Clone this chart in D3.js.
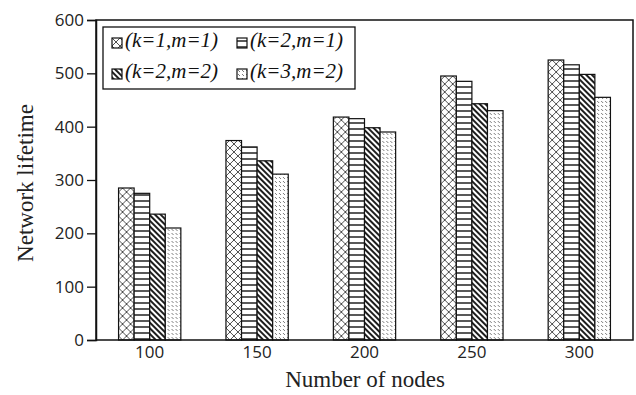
<!DOCTYPE html>
<html>
<head>
<meta charset="utf-8">
<script src="https://cdn.jsdelivr.net/npm/d3@7"></script>
<style>
  html, body { margin: 0; padding: 0; background: #fff; }
</style>
</head>
<body>
<div id="chart"></div>
<script>
const width = 636;
const height = 395;

const nodeCounts = ['100', '150', '200', '250', '300'];
const seriesNames = ['(k=1,m=1)', '(k=2,m=1)', '(k=2,m=2)', '(k=3,m=2)'];
const k1m1 = [285, 374, 418, 495, 525];
const k2m1 = [275, 362, 415, 485, 516];
const k2m2 = [236, 336, 398, 443, 498];
const k3m2 = [210, 311, 390, 430, 455];
const yTicks = [0, 100, 200, 300, 400, 500, 600];

const allSeries = [k1m1, k2m1, k2m2, k3m2];
const patternIds = ['pat-cross', 'pat-hline', 'pat-diag', 'pat-dash'];

const margin = { top: 20, right: 3, bottom: 55, left: 96 };

const svg = d3
    .select('#chart')
    .append('svg')
    .attr('width', width)
    .attr('height', height)
    .style('background-color', 'white');

// hatch patterns
const defs = svg.append('defs');

const cross = defs.append('pattern')
    .attr('id', 'pat-cross')
    .attr('patternUnits', 'userSpaceOnUse')
    .attr('width', 8)
    .attr('height', 8);
cross.append('rect').attr('width', 8).attr('height', 8).attr('fill', 'white');
cross.append('path')
    .attr('d', 'M0,0 L8,8 M8,0 L0,8')
    .attr('stroke', '#222')
    .attr('stroke-width', 0.8);

const hline = defs.append('pattern')
    .attr('id', 'pat-hline')
    .attr('patternUnits', 'userSpaceOnUse')
    .attr('width', 6)
    .attr('height', 6);
hline.append('rect').attr('width', 6).attr('height', 6).attr('fill', 'white');
hline.append('line')
    .attr('x1', 0).attr('y1', 3).attr('x2', 6).attr('y2', 3)
    .attr('stroke', '#111')
    .attr('stroke-width', 1.4);

const diag = defs.append('pattern')
    .attr('id', 'pat-diag')
    .attr('patternUnits', 'userSpaceOnUse')
    .attr('width', 4)
    .attr('height', 4)
    .attr('patternTransform', 'rotate(45)');
diag.append('rect').attr('width', 4).attr('height', 4).attr('fill', 'white');
diag.append('line')
    .attr('x1', 0).attr('y1', 2).attr('x2', 4).attr('y2', 2)
    .attr('stroke', '#111')
    .attr('stroke-width', 1.9);

const dash = defs.append('pattern')
    .attr('id', 'pat-dash')
    .attr('patternUnits', 'userSpaceOnUse')
    .attr('width', 8)
    .attr('height', 8);
dash.append('rect').attr('width', 8).attr('height', 8).attr('fill', 'white');
dash.append('path')
    .attr('d', 'M1,1 L3,3 M5,5 L7,7 M5,1 L7,3 M1,5 L3,7')
    .attr('stroke', '#444')
    .attr('stroke-width', 0.7);

const x = d3.scaleBand()
    .domain(nodeCounts)
    .range([margin.left, width - margin.right])
    .paddingInner(0.42)
    .paddingOuter(0.21);

const xInner = d3.scaleBand()
    .domain(d3.range(seriesNames.length))
    .range([0, x.bandwidth()]);

const y = d3.scaleLinear()
    .domain([0, 600])
    .range([height - margin.bottom, margin.top]);

// bars
const groups = svg.append('g')
    .selectAll('g')
    .data(nodeCounts)
    .enter()
    .append('g')
    .attr('transform', (d) => `translate(${x(d)},0)`);

groups.selectAll('rect')
    .data((d, i) => allSeries.map((s, j) => ({ j, value: s[i] })))
    .enter()
    .append('rect')
    .attr('x', (d) => xInner(d.j))
    .attr('y', (d) => y(d.value))
    .attr('width', xInner.bandwidth())
    .attr('height', (d) => y(0) - y(d.value))
    .attr('fill', (d) => `url(#${patternIds[d.j]})`)
    .attr('stroke', '#111')
    .attr('stroke-width', 1.2);

// frame
svg.append('rect')
    .attr('x', margin.left)
    .attr('y', margin.top)
    .attr('width', width - margin.left - margin.right)
    .attr('height', height - margin.top - margin.bottom)
    .attr('fill', 'none')
    .attr('stroke', '#111')
    .attr('stroke-width', 1.5);

// y axis
const yAxis = svg.append('g')
    .attr('transform', `translate(${margin.left},0)`)
    .call(d3.axisLeft(y).tickValues(yTicks).tickSize(9).tickPadding(3));
yAxis.select('.domain').attr('stroke', '#111').attr('stroke-width', 1.5);
yAxis.selectAll('.tick line').attr('stroke', '#111').attr('stroke-width', 1.3);
yAxis.selectAll('text')
    .attr('font-family', '"Open Sans", sans-serif')
    .attr('font-size', '17px')
    .attr('fill', '#222');

// x axis
const xAxis = svg.append('g')
    .attr('transform', `translate(0,${height - margin.bottom})`)
    .call(d3.axisBottom(x).tickSize(0).tickPadding(6));
xAxis.select('.domain').remove();
xAxis.selectAll('text')
    .attr('font-family', '"Open Sans", sans-serif')
    .attr('font-size', '17px')
    .attr('fill', '#222');

// axis titles
svg.append('text')
    .attr('x', 365)
    .attr('y', 387)
    .attr('text-anchor', 'middle')
    .attr('font-family', '"Liberation Serif", serif')
    .attr('font-size', '23px')
    .attr('fill', '#222')
    .text('Number of nodes');

svg.append('text')
    .attr('transform', 'translate(33,183) rotate(-90)')
    .attr('text-anchor', 'middle')
    .attr('font-family', '"Liberation Serif", serif')
    .attr('font-size', '23px')
    .attr('fill', '#222')
    .text('Network lifetime');

// legend
const legend = svg.append('g').attr('transform', 'translate(103,27)');
legend.append('rect')
    .attr('width', 252)
    .attr('height', 62)
    .attr('fill', 'white')
    .attr('stroke', '#111')
    .attr('stroke-width', 1.3);

const legendItems = legend.selectAll('g.item')
    .data(seriesNames)
    .enter()
    .append('g')
    .attr('class', 'item')
    .attr('transform', (d, i) => `translate(${i % 2 === 0 ? 9 : 134},${i < 2 ? 11 : 42})`);

legendItems.append('rect')
    .attr('width', 10)
    .attr('height', 10)
    .attr('fill', (d, i) => `url(#${patternIds[i]})`)
    .attr('stroke', '#111')
    .attr('stroke-width', 1.2);

legendItems.append('text')
    .attr('x', 13)
    .attr('y', 9)
    .attr('font-family', '"Liberation Serif", serif')
    .attr('font-style', 'italic')
    .attr('font-size', '21px')
    .attr('fill', '#111')
    .text((d) => d);
</script>
</body>
</html>
